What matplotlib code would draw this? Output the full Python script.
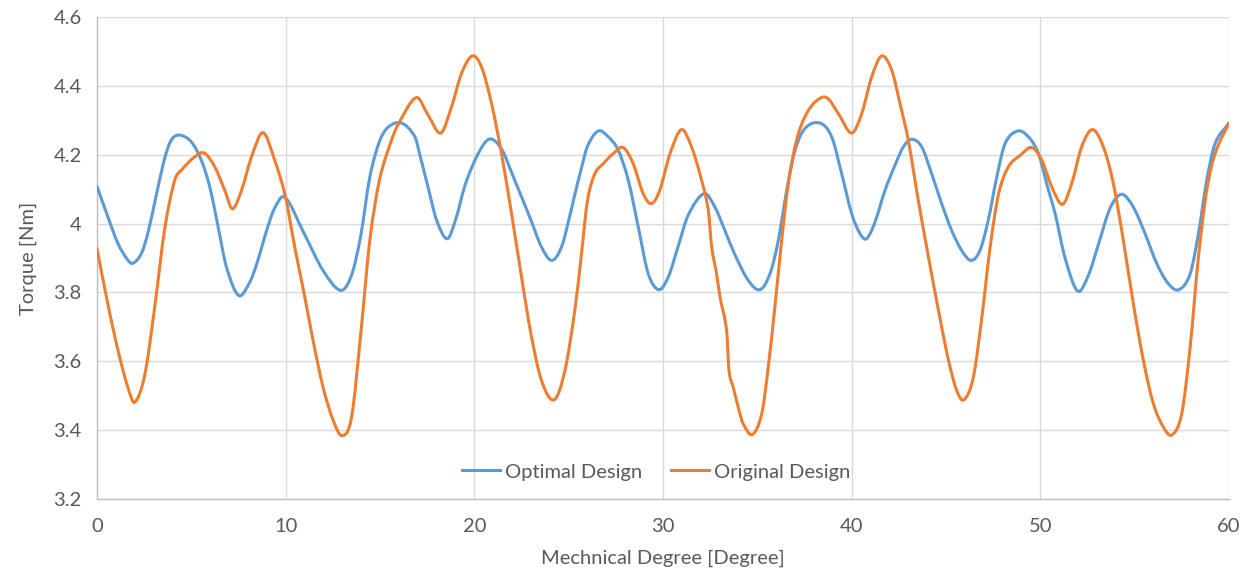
import numpy as np
import matplotlib
matplotlib.use("Agg")
import matplotlib.pyplot as plt
from matplotlib.path import Path
from matplotlib.patches import PathPatch
from matplotlib.lines import Line2D

# ---- data ----
optimal_deg = [0.00, 0.58, 1.12, 1.65, 1.91, 2.35, 2.71, 3.15, 3.59, 3.94, 4.38, 5.00, 5.53, 5.98,
               6.42, 6.86, 7.51, 8.10, 8.45, 8.75, 8.98, 9.40, 9.95, 10.98, 11.98, 12.92, 13.49,
               13.98, 14.46, 14.97, 15.43, 16.14, 16.85, 17.11, 17.55, 18.00, 18.56, 19.00, 19.50,
               20.00, 20.56, 20.95, 21.48, 22.00, 23.00, 23.56, 24.10, 24.62, 25.07, 25.33, 25.68,
               26.00, 26.57, 27.10, 27.63, 28.16, 28.69, 29.22, 29.78, 30.28, 30.81, 31.34, 32.19,
               32.75, 33.28, 33.81, 34.52, 35.14, 35.67, 36.11, 36.56, 37.00, 37.52, 38.32, 38.94,
               39.47, 40.00, 40.44, 40.79, 41.24, 41.77, 42.30, 42.74, 43.18, 43.71, 44.24, 44.77,
               45.30, 45.83, 46.33, 46.80, 47.24, 47.69, 48.13, 48.80, 49.37, 49.90, 50.43, 50.78,
               51.31, 51.98, 52.55, 53.08, 53.70, 54.31, 54.93, 55.55, 56.17, 56.79, 57.35, 57.94,
               58.38, 58.82, 59.26, 60.00]
optimal_torque = [4.108, 4.019, 3.941, 3.893, 3.885, 3.913, 3.975, 4.085, 4.190, 4.243, 4.257, 4.237,
                  4.184, 4.106, 3.990, 3.874, 3.791, 3.830, 3.880, 3.935, 3.978, 4.043, 4.077, 3.971,
                  3.864, 3.806, 3.850, 3.965, 4.135, 4.238, 4.280, 4.292, 4.252, 4.200, 4.105, 4.010,
                  3.956, 4.010, 4.110, 4.180, 4.235, 4.245, 4.213, 4.145, 4.010, 3.932, 3.893, 3.932,
                  4.025, 4.085, 4.162, 4.225, 4.269, 4.252, 4.213, 4.126, 3.990, 3.854, 3.808, 3.845,
                  3.935, 4.025, 4.087, 4.048, 3.980, 3.910, 3.835, 3.808, 3.854, 3.951, 4.097, 4.213,
                  4.276, 4.292, 4.252, 4.145, 4.029, 3.971, 3.956, 4.005, 4.097, 4.170, 4.223, 4.245,
                  4.223, 4.145, 4.058, 3.980, 3.922, 3.893, 3.922, 4.010, 4.135, 4.232, 4.269, 4.252,
                  4.203, 4.097, 4.030, 3.900, 3.804, 3.850, 3.940, 4.045, 4.085, 4.048, 3.971, 3.884,
                  3.825, 3.808, 3.854, 3.971, 4.126, 4.232, 4.292]

original_deg = [0.00, 0.58, 1.12, 1.65, 2.00, 2.53, 3.06, 3.59, 4.12, 4.47, 5.18, 5.68, 6.24, 6.77,
                7.18, 7.66, 8.19, 8.80, 9.42, 9.99, 10.48, 10.98, 11.45, 11.98, 12.52, 12.99, 13.49,
                13.98, 14.46, 14.97, 15.61, 15.98, 16.93, 17.55, 18.22, 18.79, 19.32, 19.89, 20.38,
                20.91, 21.44, 22.00, 22.50, 23.00, 23.56, 24.23, 24.80, 25.33, 25.68, 26.00, 26.39,
                26.83, 27.36, 27.89, 28.42, 28.95, 29.39, 29.83, 30.37, 30.98, 31.51, 32.00, 32.40,
                32.58, 32.84, 33.02, 33.37, 33.50, 33.72, 34.08, 34.25, 34.73, 35.23, 35.58, 35.93,
                36.29, 36.64, 37.08, 37.52, 38.06, 38.67, 39.30, 40.00, 40.53, 41.06, 41.59, 42.12,
                42.56, 43.00, 43.53, 44.07, 44.60, 45.13, 45.57, 45.95, 46.45, 46.90, 47.34, 47.79,
                48.31, 48.93, 49.55, 50.08, 50.61, 51.17, 51.66, 52.19, 52.76, 53.34, 53.87, 54.40,
                54.93, 55.46, 55.99, 56.52, 56.97, 57.49, 57.94, 58.38, 58.82, 59.26, 60.00]
original_torque = [3.927, 3.765, 3.630, 3.522, 3.481, 3.560, 3.758, 3.985, 4.126, 4.155, 4.194, 4.205,
                   4.165, 4.097, 4.043, 4.097, 4.194, 4.264, 4.184, 4.077, 3.932, 3.796, 3.661, 3.525,
                   3.428, 3.384, 3.437, 3.680, 3.951, 4.126, 4.242, 4.290, 4.366, 4.315, 4.263, 4.339,
                   4.436, 4.487, 4.455, 4.349, 4.203, 4.019, 3.845, 3.680, 3.544, 3.488, 3.573, 3.750,
                   3.913, 4.068, 4.145, 4.174, 4.203, 4.221, 4.174, 4.087, 4.058, 4.097, 4.203, 4.273,
                   4.223, 4.135, 4.039, 3.932, 3.854, 3.787, 3.690, 3.573, 3.525, 3.447, 3.418, 3.387,
                   3.447, 3.583, 3.758, 3.951, 4.116, 4.242, 4.310, 4.353, 4.366, 4.319, 4.263, 4.319,
                   4.426, 4.487, 4.446, 4.349, 4.242, 4.068, 3.903, 3.748, 3.603, 3.515, 3.488, 3.554,
                   3.728, 3.932, 4.087, 4.165, 4.198, 4.221, 4.184, 4.106, 4.056, 4.116, 4.223, 4.273,
                   4.223, 4.116, 3.951, 3.767, 3.603, 3.477, 3.409, 3.386, 3.447, 3.641, 3.903, 4.097,
                   4.203, 4.292]

series_names = ["Optimal Design", "Original Design"]
series_colors = ["#5B9BD5", "#ED7D31"]
x_ticks = [0, 10, 20, 30, 40, 50, 60]
y_ticks = [3.2, 3.4, 3.6, 3.8, 4.0, 4.2, 4.4, 4.6]
y_tick_labels = ["3.2", "3.4", "3.6", "3.8", "4", "4.2", "4.4", "4.6"]
x_label = "Mechnical Degree [Degree]"
y_label = "Torque [Nm]"


def smooth_path(xs, ys):
    """Smoothed line (cubic Hermite segments written as Bezier curves)."""
    x = np.asarray(xs, float)
    y = np.asarray(ys, float)
    n = len(x)
    m = np.zeros(n)
    m[1:-1] = (y[2:] - y[:-2]) / (x[2:] - x[:-2])
    m[0] = (y[1] - y[0]) / (x[1] - x[0])
    m[-1] = (y[-1] - y[-2]) / (x[-1] - x[-2])
    verts = [(x[0], y[0])]
    codes = [Path.MOVETO]
    for i in range(n - 1):
        h = x[i + 1] - x[i]
        verts += [(x[i] + h / 3, y[i] + m[i] * h / 3),
                  (x[i + 1] - h / 3, y[i + 1] - m[i + 1] * h / 3),
                  (x[i + 1], y[i + 1])]
        codes += [Path.CURVE4] * 3
    return Path(verts, codes)


plt.rcParams["font.family"] = ["Lato", "DejaVu Sans"]
text_color = "#595959"
fs = 14.5

fig = plt.figure(figsize=(12.5, 5.75), dpi=100)
ax = fig.add_axes([0.0776, 0.1322, 0.9056, 0.8382])

for xs, ys, col in [(optimal_deg, optimal_torque, series_colors[0]),
                    (original_deg, original_torque, series_colors[1])]:
    ax.add_patch(PathPatch(smooth_path(xs, ys), fill=False, edgecolor=col,
                           linewidth=2.2, capstyle="round", joinstyle="round", zorder=3))

ax.set_xlim(0, 60)
ax.set_ylim(3.2, 4.6)
ax.set_xticks(x_ticks)
ax.set_yticks(y_ticks)
ax.set_yticklabels(y_tick_labels)
ax.grid(True, color="#D9D9D9", linewidth=1.0, zorder=0)
ax.set_axisbelow(True)
for s in ["top", "right"]:
    ax.spines[s].set_visible(False)
for s in ["left", "bottom"]:
    ax.spines[s].set_color("#BFBFBF")
    ax.spines[s].set_linewidth(1.0)
ax.tick_params(axis="x", length=0, labelsize=fs, colors=text_color, pad=14)
ax.tick_params(axis="y", length=0, labelsize=fs, colors=text_color, pad=11)
ax.set_xlabel(x_label, fontsize=fs, color=text_color, labelpad=10)
ax.set_ylabel(y_label, fontsize=fs, color=text_color, labelpad=12)

handles = [Line2D([], [], color=c, linewidth=2.2) for c in series_colors]
ax.legend(handles, series_names, loc="center", bbox_to_anchor=(0.494, 0.056), ncol=2,
          frameon=False, fontsize=fs, handlelength=1.9, handletextpad=0.25,
          columnspacing=1.4, labelcolor=text_color)

fig.savefig("out.png", dpi=100)
